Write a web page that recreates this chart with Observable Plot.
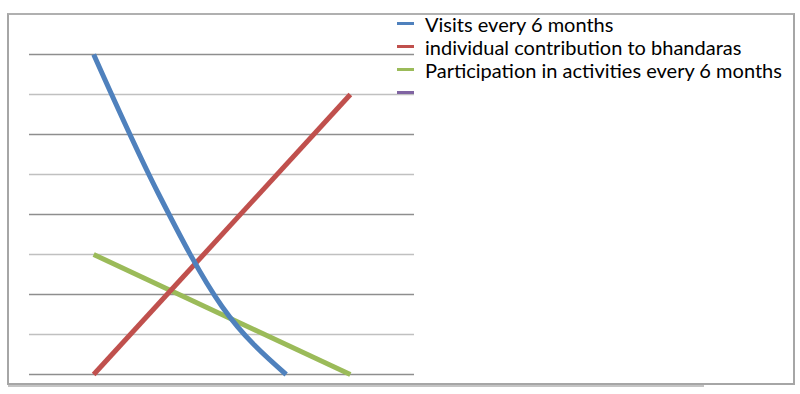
<!DOCTYPE html>
<html>
<head>
<meta charset="utf-8">
<script src="https://cdn.jsdelivr.net/npm/d3@7"></script>
<script src="https://cdn.jsdelivr.net/npm/@observablehq/plot@0.6"></script>
<style>
  html, body { margin: 0; padding: 0; background: #fff; }
  #wrap { position: relative; width: 800px; height: 394px; overflow: hidden; }
  #frame { position: absolute; left: 7px; top: 13px; width: 784px; height: 368px; border: 2px solid #a6a6a6; border-top-color: #b0b0b0; }
  #under { position: absolute; left: 8px; top: 385px; width: 696px; height: 2px; background: #c4c4c4; }
  #chart { position: absolute; left: 0; top: 0; }
  #legend { position: absolute; left: 397px; top: 12px; font-family: Lato, "Liberation Sans", sans-serif; font-size: 20px; color: #000; }
  .item { height: 23px; display: flex; align-items: center; white-space: nowrap; }
  .sw { width: 17px; height: 3px; margin-right: 11px; flex: none; }
</style>
</head>
<body>
<div id="wrap">
  <div id="frame"></div>
  <div id="under"></div>
  <div id="chart"></div>
  <div id="legend"></div>
</div>
<script>
// Series names
const seriesNames = ["Visits every 6 months", "individual contribution to bhandaras", "Participation in activities every 6 months", ""];
const seriesColors = ["#4f81bd", "#c0504d", "#9bbb59", "#8064a2"];

// Visits every 6 months
const visitsX = [1, 2, 3, 4];
const visitsY = [8, 4.55, 1.7, 0];
// individual contribution to bhandaras
const contribX = [1, 5];
const contribY = [0, 7];
// Participation in activities every 6 months
const partX = [1, 5];
const partY = [3, 0];

// Gridline values
const gridDark = [0, 2, 4, 6, 8];
const gridLight = [1, 3, 5, 7];

const toRows = (xs, ys) => xs.map((x, i) => ({x, y: ys[i]}));

const chart = Plot.plot({
  width: 800,
  height: 394,
  marginLeft: 29,
  marginRight: 386,
  marginTop: 54,
  marginBottom: 20,
  x: {domain: [0, 6], axis: null},
  y: {domain: [0, 8], axis: null},
  style: {background: "transparent"},
  marks: [
    Plot.ruleY(gridLight, {stroke: "#c0c0c0", strokeWidth: 1.6}),
    Plot.ruleY(gridDark, {stroke: "#8e8e8e", strokeWidth: 1.6}),
    Plot.line(toRows(partX, partY), {x: "x", y: "y", stroke: seriesColors[2], strokeWidth: 5, strokeLinecap: "butt"}),
    Plot.line(toRows(contribX, contribY), {x: "x", y: "y", stroke: seriesColors[1], strokeWidth: 5, strokeLinecap: "butt"}),
    Plot.line(toRows(visitsX, visitsY), {x: "x", y: "y", stroke: seriesColors[0], strokeWidth: 5, strokeLinecap: "butt", curve: "monotone-x"})
  ]
});
document.getElementById("chart").appendChild(chart);

const legend = document.getElementById("legend");
seriesNames.forEach((name, i) => {
  const item = document.createElement("div");
  item.className = "item";
  const sw = document.createElement("div");
  sw.className = "sw";
  sw.style.background = seriesColors[i];
  const label = document.createElement("span");
  label.textContent = name;
  item.appendChild(sw);
  item.appendChild(label);
  legend.appendChild(item);
});
</script>
</body>
</html>
